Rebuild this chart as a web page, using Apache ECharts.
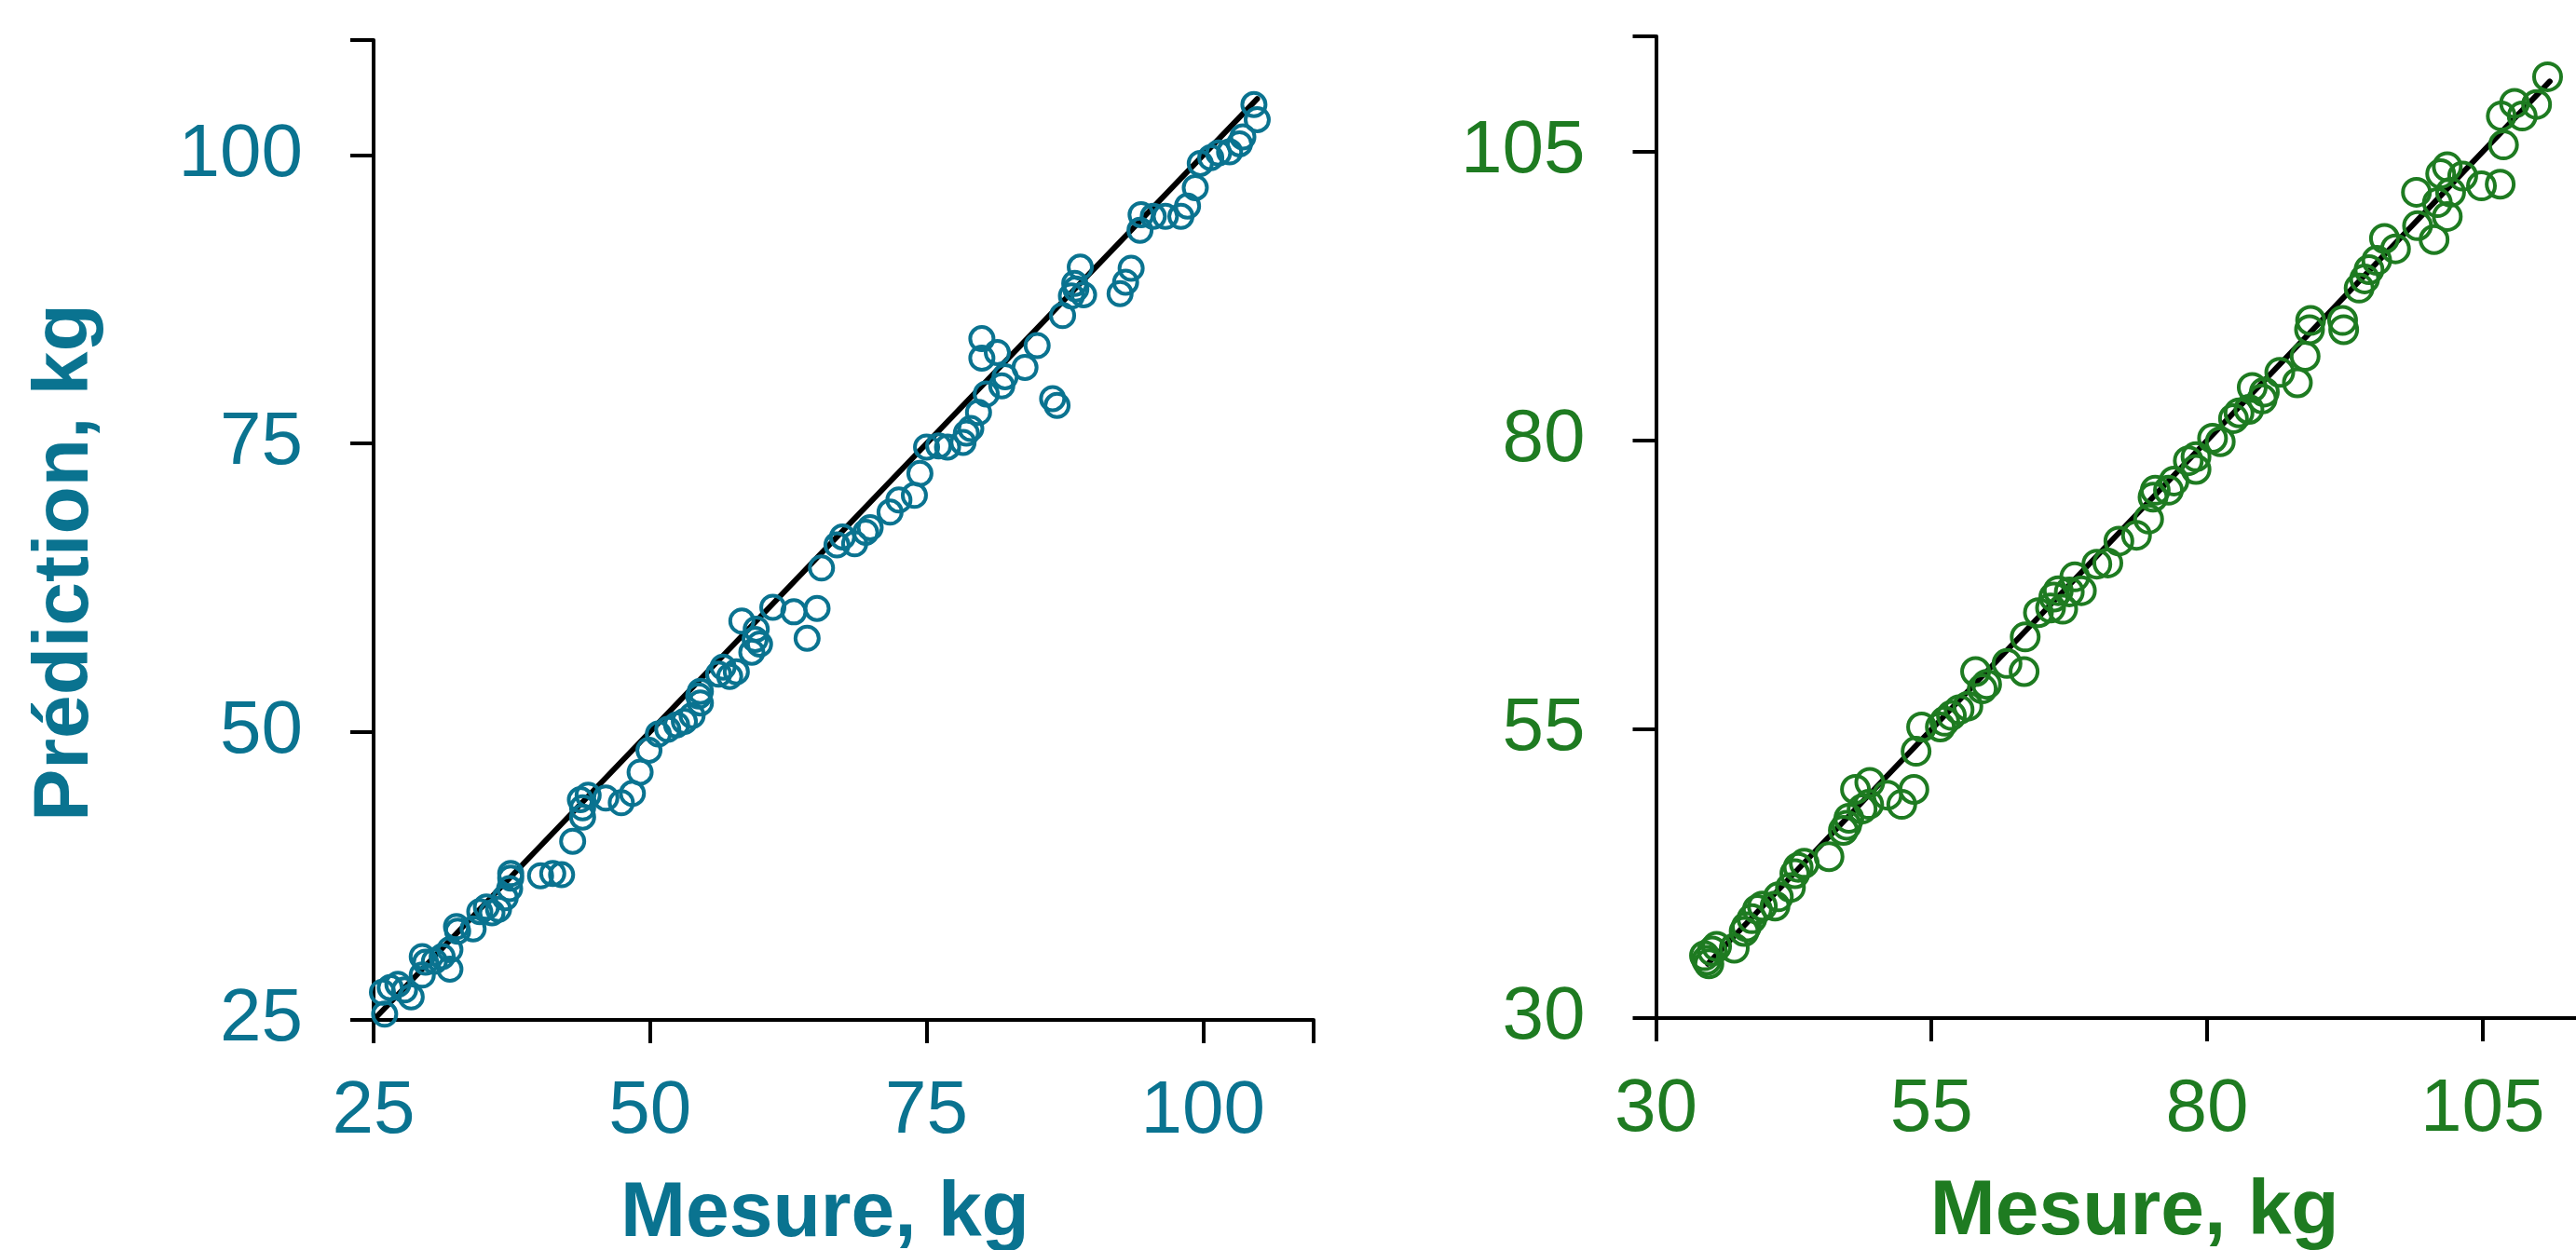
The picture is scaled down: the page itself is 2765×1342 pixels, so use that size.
<!DOCTYPE html>
<html>
<head>
<meta charset="utf-8">
<script src="https://cdn.jsdelivr.net/npm/echarts@6/dist/echarts.min.js"></script>
<style>
html,body{margin:0;padding:0;background:#fff;}
#chart{width:2765px;height:1342px;}
</style>
</head>
<body>
<div id="chart"></div>
<script>
// ---- Data (left panel, blue) ----
const leftMeasured = [26.0,25.8,26.5,27.2,28.4,27.8,29.4,29.4,29.7,30.5,31.2,31.9,31.9,32.5,32.6,34.0,34.6,35.2,35.7,36.3,36.9,37.3,37.4,37.4,40.1,41.2,42.0,43.0,43.9,43.9,43.7,44.4,46.0,47.4,48.4,49.1,49.9,50.75,
  51.6,52.4,53.1,53.8,54.55,54.4,54.55,56.2,56.6,57.8,57.2,58.3,59.2,59.5,59.9,59.6,61.1,63.0,65.1,64.2,65.5,66.9,
  67.4,68.5,69.5,69.9,71.7,72.5,73.9,74.4,75.0,76.1,76.9,78.3,78.6,79.0,79.7,80.4,81.8,82.1,80.0,80.0,81.4,83.9,85.0,86.4,86.8,87.3,88.1,
  88.4,88.9,88.5,89.2,92.5,93.0,93.5,94.3,94.4,95.5,96.6,98.0,98.6,99.3,99.75,100.7,101.4,102.4,103.3,103.6,104.6,104.9];
const leftPredicted = [25.5,27.4,27.8,28.1,27.0,27.6,28.9,30.5,30.0,30.1,30.5,29.4,31.1,33.1,32.7,32.9,34.4,34.8,34.3,34.6,35.6,36.4,37.3,37.7,37.5,37.7,37.6,40.5,42.6,43.4,44.1,44.5,44.25,43.85,44.65,46.5,48.4,49.8,
  50.2,50.6,50.9,51.4,52.5,53.1,53.5,55.0,55.6,55.2,54.8,59.6,56.9,58.0,57.6,58.9,60.8,60.4,60.7,58.1,64.2,66.2,
  66.9,66.3,67.3,67.7,69.05,70.1,70.5,72.4,74.7,74.8,74.7,75.1,75.9,76.3,77.7,79.3,80.0,80.8,84.1,82.4,82.9,81.6,83.5,78.9,78.3,86.1,87.8,
  88.9,90.3,88.4,87.9,88.0,89.0,90.2,93.5,94.85,94.7,94.7,94.7,95.6,97.2,99.3,99.8,100.2,100.3,101.0,101.6,104.4,103.1];
const leftIdentity = [25.2, 104.9];
const leftTicks = [25, 50, 75, 100];

// ---- Data (right panel, green) ----
const rightMeasured = [34.6,34.4,35.1,35.5,34.8,37.1,38.0,38.2,38.7,39.2,39.65,40.8,41.1,42.2,42.6,42.9,43.45,45.7,47.0,47.3,47.5,48.1,48.7,49.4,49.3,52.3,53.4,53.6,54.1,51.0,
  55.8,56.2,56.8,57.5,58.3,59.0,59.6,60.0,61.85,63.4,63.5,64.7,65.8,66.1,66.5,66.9,67.5,68.6,68.0,70.0,71.0,72.0,73.6,74.7,75.1,
  75.3,76.5,77.0,78.3,79.0,79.0,80.5,81.2,82.4,82.9,83.8,84.1,85.0,85.2,86.6,88.2,88.9,89.3,89.4,92.3,92.4,93.8,94.3,
  94.7,95.4,96.1,97.1,99.1,100.6,99.0,100.9,101.8,101.2,101.8,102.1,103.2,104.9,106.6,106.9,106.7,107.9,108.6,109.9,110.9];
const rightPredicted = [35.0,35.4,35.8,36.2,34.7,36.05,37.5,37.9,38.6,39.4,39.7,39.7,40.5,41.3,42.5,43.05,43.4,43.97,46.25,46.7,47.3,49.8,48.1,50.4,48.5,48.5,49.8,53.1,55.2,49.3,
  55.2,55.7,56.2,56.7,57.0,60.0,58.5,58.9,60.7,60.0,63.0,65.1,65.5,66.45,67.0,65.4,66.9,67.0,68.2,69.3,69.4,71.3,71.8,73.2,75.1,
  75.7,75.7,76.5,78.25,78.6,77.5,80.2,79.9,81.9,82.4,82.7,84.6,83.6,84.2,85.9,85.0,87.3,89.6,90.4,90.4,89.6,93.2,94.0,
  94.8,95.6,97.5,96.6,98.6,97.4,101.5,100.6,99.4,103.1,103.7,101.5,102.9,102.05,102.2,105.6,108.1,109.2,108.1,109.1,111.5];
const rightIdentity = [34.7, 111.1];
const rightTicks = [30, 55, 80, 105];

const BLUE = '#0a7390';
const GREEN = '#1e7b21';
const FONT = '"Liberation Sans", Arial, sans-serif';

function pairs(xs, ys) { return xs.map((x, i) => [x, ys[i]]); }

function axisCommon(color, ticks, min, max) {
  return {
    type: 'value', min: min, max: max, interval: 25,
    axisLine: { show: true, onZero: false, lineStyle: { color: '#000', width: 4 } },
    axisTick: { show: true, inside: false, length: 25, lineStyle: { color: '#000', width: 4 } },
    splitLine: { show: false },
    axisLabel: {
      color: color, fontSize: 80, fontFamily: FONT,
      formatter: v => ticks.indexOf(v) >= 0 ? String(v) : ''
    }
  };
}

const chart = echarts.init(document.getElementById('chart'), null, { renderer: 'canvas' });

const xLeft = axisCommon(BLUE, leftTicks, 25, 110);
Object.assign(xLeft, {
  gridIndex: 0, name: 'Mesure, kg', nameLocation: 'middle', nameGap: 167,
  nameTextStyle: { color: BLUE, fontSize: 84, fontWeight: 'bold', fontFamily: FONT, padding: [0, 40, 0, 0] }
});
xLeft.axisLabel.margin = 59;

const yLeft = axisCommon(BLUE, leftTicks, 25, 110);
Object.assign(yLeft, {
  gridIndex: 0, name: 'Prédiction, kg', nameLocation: 'middle', nameGap: 288, nameRotate: 90,
  nameTextStyle: { color: BLUE, fontSize: 84, fontWeight: 'bold', fontFamily: FONT, padding: [0, 70, 0, 0] }
});
yLeft.axisLabel.margin = 76;

const xRight = axisCommon(GREEN, rightTicks, 30, 115);
Object.assign(xRight, {
  gridIndex: 1, name: 'Mesure, kg', nameLocation: 'middle', nameGap: 167,
  nameTextStyle: { color: GREEN, fontSize: 84, fontWeight: 'bold', fontFamily: FONT, padding: [0, 0, 0, 22] }
});
xRight.axisLabel.margin = 59;

const yRight = axisCommon(GREEN, rightTicks, 30, 115);
yRight.gridIndex = 1;
yRight.axisLabel.margin = 76;

chart.setOption({
  animation: false,
  backgroundColor: '#ffffff',
  grid: [
    { left: 401, width: 1009, top: 43, height: 1052, containLabel: false, outerBoundsMode: 'none' },
    { left: 1777.5, width: 1005.5, top: 39, height: 1054, containLabel: false, outerBoundsMode: 'none' }
  ],
  xAxis: [xLeft, xRight],
  yAxis: [yLeft, yRight],
  series: [
    {
      type: 'line', xAxisIndex: 0, yAxisIndex: 0, z: 1,
      data: leftIdentity.map(v => [v, v]), symbol: 'none', silent: true,
      lineStyle: { color: '#000', width: 6, cap: 'round' }
    },
    {
      type: 'scatter', xAxisIndex: 0, yAxisIndex: 0, z: 2,
      data: pairs(leftMeasured, leftPredicted), symbol: 'circle', symbolSize: 25,
      itemStyle: { color: 'rgba(0,0,0,0)', borderColor: BLUE, borderWidth: 4, opacity: 1 }
    },
    {
      type: 'line', xAxisIndex: 1, yAxisIndex: 1, z: 1,
      data: rightIdentity.map(v => [v, v]), symbol: 'none', silent: true,
      lineStyle: { color: '#000', width: 6, cap: 'round' }
    },
    {
      type: 'scatter', xAxisIndex: 1, yAxisIndex: 1, z: 2,
      data: pairs(rightMeasured, rightPredicted), symbol: 'circle', symbolSize: 29,
      itemStyle: { color: 'rgba(0,0,0,0)', borderColor: GREEN, borderWidth: 4, opacity: 1 }
    }
  ]
});
</script>
</body>
</html>
